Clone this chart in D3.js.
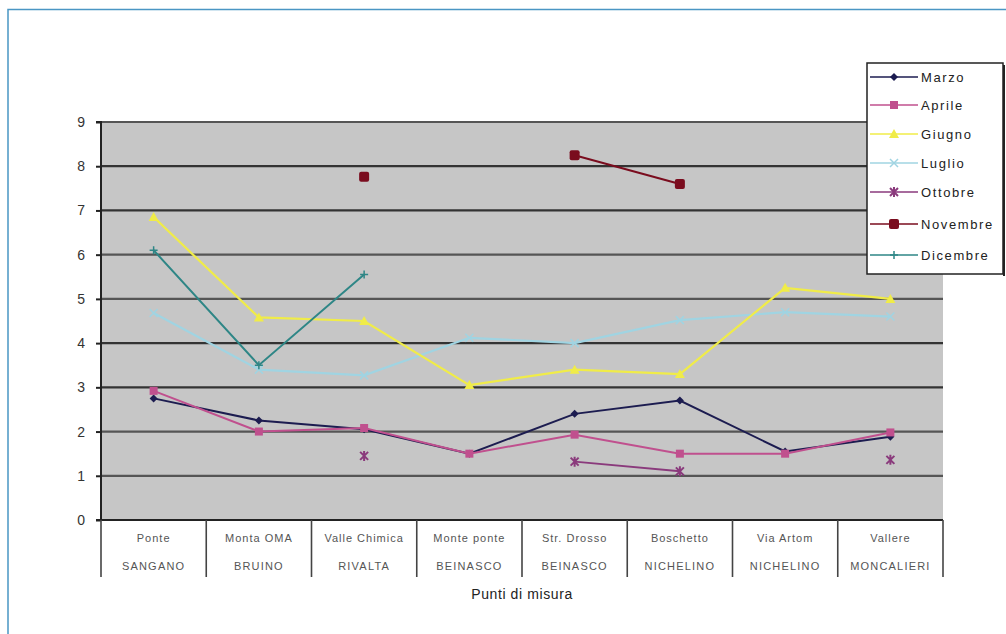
<!DOCTYPE html>
<html><head><meta charset="utf-8">
<script src="https://cdn.jsdelivr.net/npm/d3@7"></script>
<style>html,body{margin:0;padding:0;background:#fff;}svg{display:block;font-family:"Liberation Sans",Arial,sans-serif;}</style>
</head><body><svg id="c" width="1006" height="634"></svg>
<script>
const categoriesTop = ["Ponte","Monta OMA","Valle Chimica","Monte ponte","Str. Drosso","Boschetto","Via Artom","Vallere"];
const categoriesBottom = ["SANGANO","BRUINO","RIVALTA","BEINASCO","BEINASCO","NICHELINO","NICHELINO","MONCALIERI"];
const yTicks = [0,1,2,3,4,5,6,7,8,9];
const seriesNames = ["Marzo","Aprile","Giugno","Luglio","Ottobre","Novembre","Dicembre"];
const marzo    = [2.75,2.25,2.05,1.5,2.4,2.7,1.55,1.88];
const aprile   = [2.92,2.0,2.08,1.5,1.93,1.5,1.5,1.98];
const giugno   = [6.85,4.58,4.5,3.05,3.4,3.3,5.25,5.0];
const luglio   = [4.68,3.4,3.27,4.12,4.0,4.52,4.7,4.6];
const ottobre  = [null,null,1.45,null,1.32,1.1,null,1.36];
const novembre = [null,null,7.76,null,8.25,7.6,null,null];
const dicembre = [6.1,3.5,5.55,null,null,null,null,null];
const seriesValues = [marzo,aprile,giugno,luglio,ottobre,novembre,dicembre];
const colors = ["#1c1c50","#c0508e","#f0ec48","#a0d4e2","#8a3a7c","#7a0c1e","#2e8686"];
const shapes = ["diamond","square","triangle","x","star","circle","plus"];

const svg = d3.select("#c");
// outer frame
svg.append("rect").attr("x",8).attr("y",9.5).attr("width",1020).attr("height",640)
  .attr("fill","none").attr("stroke","#4a96c4").attr("stroke-width",1.5);

const L=101, R=943, T=122, B=520;
const x = d3.scaleBand().domain(d3.range(categoriesTop.length)).range([L,R]);
const y = d3.scaleLinear().domain([0,9]).range([B,T]);

svg.append("rect").attr("x",L).attr("y",T).attr("width",R-L).attr("height",B-T).attr("fill","#c6c6c6");

// gridlines
svg.append("g").selectAll("line").data(yTicks.filter(v=>v>0)).join("line")
  .attr("x1",L).attr("x2",R).attr("y1",d=>y(d)).attr("y2",d=>y(d))
  .attr("stroke",d=>[3,4,7,8].includes(d)?"#333":"#555").attr("stroke-width",2.2);

// y axis
const yAxis = d3.axisLeft(y).tickValues(yTicks).tickSize(5).tickPadding(11).tickFormat(d3.format("d"));
const ga = svg.append("g").attr("transform",`translate(${L},0)`).call(yAxis);
ga.select(".domain").attr("stroke","#222").attr("stroke-width",2).attr("d",`M-5,${T}H0V${B}`);
ga.selectAll(".tick line").attr("stroke","#222").attr("stroke-width",2);
ga.selectAll(".tick text").attr("font-size",14).attr("fill","#333").attr("font-family","Liberation Sans, Arial, sans-serif");

// x axis baseline and category dividers
svg.append("line").attr("x1",L-5).attr("x2",R).attr("y1",B).attr("y2",B).attr("stroke","#222").attr("stroke-width",2);
const bounds = d3.range(categoriesTop.length+1).map(i=> i<categoriesTop.length ? x(i) : x(i-1)+x.bandwidth());
svg.append("g").selectAll("line").data(bounds).join("line")
  .attr("x1",d=>d).attr("x2",d=>d).attr("y1",B).attr("y2",577).attr("stroke","#444").attr("stroke-width",1.6);
const cx = i => x(i)+x.bandwidth()/2;
svg.append("g").selectAll("text").data(categoriesTop).join("text")
  .attr("x",(d,i)=>cx(i)).attr("y",542).attr("text-anchor","middle").attr("font-size",11).attr("letter-spacing",1).attr("fill","#555").text(d=>d);
svg.append("g").selectAll("text").data(categoriesBottom).join("text")
  .attr("x",(d,i)=>cx(i)).attr("y",570).attr("text-anchor","middle").attr("font-size",11).attr("letter-spacing",1.2).attr("fill","#555").text(d=>d);
svg.append("text").attr("x",(L+R)/2).attr("y",599).attr("text-anchor","middle").attr("font-size",14).attr("letter-spacing",0.6).attr("fill","#222").text("Punti di misura");

function marker(g, shape, color, px, py){
  const s=4;
  if(shape==="diamond") g.append("path").attr("d",`M${px},${py-s}L${px+s},${py}L${px},${py+s}L${px-s},${py}Z`).attr("fill",color);
  else if(shape==="square") g.append("rect").attr("x",px-s).attr("y",py-s).attr("width",2*s).attr("height",2*s).attr("fill",color);
  else if(shape==="triangle") g.append("path").attr("d",`M${px},${py-s-1}L${px+s+1},${py+s}L${px-s-1},${py+s}Z`).attr("fill",color);
  else if(shape==="x") g.append("path").attr("d",`M${px-s},${py-s}L${px+s},${py+s}M${px+s},${py-s}L${px-s},${py+s}`).attr("stroke",color).attr("stroke-width",1.5);
  else if(shape==="star") g.append("path").attr("d",`M${px-s},${py-s}L${px+s},${py+s}M${px+s},${py-s}L${px-s},${py+s}M${px},${py-s-1}V${py+s+1}`).attr("stroke",color).attr("stroke-width",2);
  else if(shape==="circle") g.append("rect").attr("x",px-5).attr("y",py-5).attr("width",10).attr("height",10).attr("rx",2).attr("fill",color);
  else if(shape==="plus") g.append("path").attr("d",`M${px-s},${py}H${px+s}M${px},${py-s}V${py+s}`).attr("stroke",color).attr("stroke-width",1.5);
}

// series
const line = d3.line().defined(d=>d[1]!=null).x(d=>cx(d[0])).y(d=>y(d[1]));
const draw = [3,2,6,0,1,4,5];
draw.forEach(si=>{
  const vals = seriesValues[si];
  const g = svg.append("g");
  g.append("path").datum(vals.map((v,i)=>[i,v])).attr("d",line)
    .attr("fill","none").attr("stroke",colors[si]).attr("stroke-width",si===3||si===2?2.2:2);
  vals.forEach((v,i)=>{ if(v!=null) marker(g, shapes[si], colors[si], cx(i), y(v)); });
});

// legend
const lg = svg.append("g");
lg.append("rect").attr("x",867).attr("y",63).attr("width",136).attr("height",211).attr("fill","#fff").attr("stroke","#222").attr("stroke-width",1.5);
lg.append("line").attr("x1",1004).attr("x2",1004).attr("y1",65).attr("y2",276).attr("stroke","#222").attr("stroke-width",2);
const ly = [77,105,134,163,192,224,255];
seriesNames.forEach((n,i)=>{
  const yy = ly[i];
  lg.append("line").attr("x1",870).attr("x2",918).attr("y1",yy).attr("y2",yy).attr("stroke",colors[i]).attr("stroke-width",1.5);
  marker(lg, shapes[i], colors[i], 894, yy);
  lg.append("text").attr("x",921).attr("y",yy+4.5).attr("font-size",13).attr("letter-spacing",1.6).attr("fill","#222").text(n);
});
</script></body></html>
